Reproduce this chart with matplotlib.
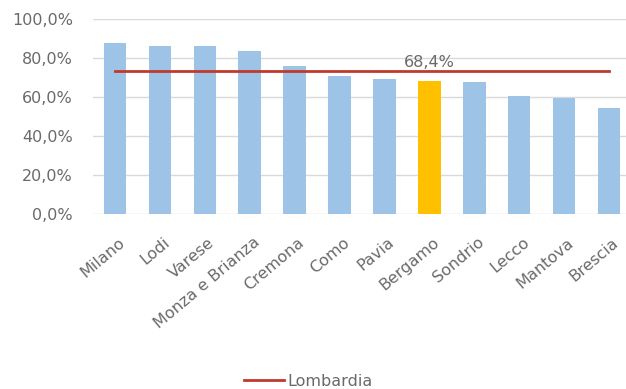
import numpy as np
import matplotlib
matplotlib.use('Agg')
import matplotlib.pyplot as plt
from matplotlib.ticker import FuncFormatter
from matplotlib.transforms import ScaledTranslation

provinces = ['Milano', 'Lodi', 'Varese', 'Monza e Brianza', 'Cremona', 'Como',
             'Pavia', 'Bergamo', 'Sondrio', 'Lecco', 'Mantova', 'Brescia']
values = [87.8, 86.0, 85.9, 83.8, 76.1, 71.0, 69.2, 68.4, 67.5, 60.7, 59.5, 54.3]
lombardia = 73.5
highlight = 'Bergamo'
highlight_label = '68,4%'

BLUE = '#9DC3E6'
GOLD = '#FFC000'
RED = '#C0392B'
GREY = '#6A6A6A'

plt.rcParams['font.family'] = ['DejaVu Sans']

fig = plt.figure(figsize=(6.26, 3.89), dpi=100)
ax = fig.add_axes([92.5 / 626, 175 / 389, 539 / 626, 195 / 389])

x = np.arange(len(provinces))
colors = [GOLD if p == highlight else BLUE for p in provinces]
ax.bar(x, values, width=0.5, color=colors, zorder=2)

ax.plot([x[0], x[-1]], [lombardia, lombardia], color=RED, lw=2, zorder=3,
        label='Lombardia')

hi = provinces.index(highlight)
ax.text(x[hi], lombardia + 2, highlight_label, ha='center', va='baseline',
        fontsize=11.5, color=GREY, zorder=4)

ax.set_xlim(-0.5, len(provinces) - 0.5)
ax.set_ylim(0, 100)
ax.set_yticks(np.arange(0, 101, 20))
ax.yaxis.set_major_formatter(FuncFormatter(lambda v, _: f'{v:.1f}%'.replace('.', ',')))
ax.grid(axis='y', color='#D9D9D9', lw=1, zorder=0)
for s in ax.spines.values():
    s.set_visible(False)
ax.tick_params(axis='y', length=0, pad=14, labelsize=11.5, labelcolor=GREY)
ax.tick_params(axis='x', length=0, pad=15, labelsize=11.5, labelcolor=GREY)
ax.set_xticks(x)
ax.set_xticklabels(provinces, rotation=40, ha='right', rotation_mode='anchor')
shift = ScaledTranslation(3 / 100, 0, fig.dpi_scale_trans)
for lbl in ax.get_xticklabels():
    lbl.set_transform(lbl.get_transform() + shift)

fig.legend(loc='lower center', bbox_to_anchor=(308 / 626, -0.036), frameon=False,
           fontsize=11.5, labelcolor=GREY, handlelength=2.5, handletextpad=0.2)

fig.savefig('out.png', dpi=100)
